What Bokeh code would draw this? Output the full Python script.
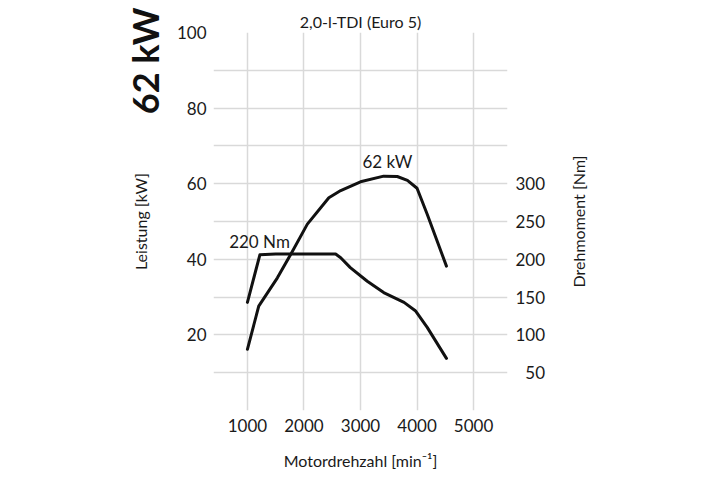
import math
from bokeh.plotting import figure
from bokeh.models import (Range1d, LinearAxis, FixedTicker, Label, Grid, Title)
from bokeh.embed import file_html
from bokeh.resources import INLINE

# ---- data ----
rpm_power = [1000, 1200, 1530, 1765, 2060, 2440, 2650, 3000, 3410, 3650, 3830, 4000, 4180, 4520]
power_kw = [16.2, 27.6, 35.1, 41.3, 49.3, 56.3, 58.2, 60.5, 62.0, 61.9, 60.9, 58.8, 51.9, 38.2]

rpm_torque = [1000, 1220, 1500, 2000, 2560, 2650, 2820, 3120, 3410, 3770, 3970, 4180, 4520]
torque_nm = [143, 206, 207, 207, 207, 202, 189, 171, 156, 143, 132, 110, 69]

x_ticks = [1000, 2000, 3000, 4000, 5000]
kw_ticks = [20, 40, 60, 80, 100]
kw_grid = [10, 20, 30, 40, 50, 60, 70, 80, 90]
nm_ticks = [50, 100, 150, 200, 250, 300]

title_text = "2,0-l-TDI (Euro 5)"
badge_text = "62 kW"
torque_axis_text = "Drehmoment [Nm]"
peak_power_text = "62 kW"
peak_torque_text = "220 Nm"

FONT = "Lato"
TXT = "#1a1a1a"

p = figure(width=712, height=472, output_backend="svg", toolbar_location=None,
           x_range=Range1d(400, 5600), y_range=Range1d(0, 100),
           min_border_left=213, min_border_right=205, min_border_top=32, min_border_bottom=62,
           x_axis_location=None, y_axis_location=None)
p.outline_line_color = None
p.extra_y_ranges = {"torque": Range1d(0, 500)}

p.title = Title(text=title_text, align="center", text_font=FONT, text_font_size="16px",
                text_font_style="normal", text_color=TXT, standoff=4)

# grids
p.xgrid.visible = False
p.ygrid.visible = False
gx = Grid(dimension=0, ticker=FixedTicker(ticks=x_ticks),
          grid_line_color="#d9d9d9", grid_line_width=1.5)
gy = Grid(dimension=1, ticker=FixedTicker(ticks=kw_grid),
          grid_line_color="#d9d9d9", grid_line_width=1.5)
p.add_layout(gx)
p.add_layout(gy)

def style_axis(ax):
    ax.axis_line_color = None
    ax.major_tick_line_color = None
    ax.minor_tick_line_color = None
    ax.major_tick_out = 0
    ax.major_tick_in = 0
    ax.minor_tick_out = 0
    ax.minor_tick_in = 0
    ax.major_label_text_font = FONT
    ax.major_label_text_font_size = "17px"
    ax.major_label_text_color = TXT
    ax.axis_label_text_font = FONT
    ax.axis_label_text_font_size = "16px"
    ax.axis_label_text_font_style = "normal"
    ax.axis_label_text_color = TXT

xaxis = LinearAxis(ticker=FixedTicker(ticks=x_ticks), axis_label="Motordrehzahl [min\u207b\u00b9]")
style_axis(xaxis)
xaxis.major_label_standoff = 8
xaxis.axis_label_standoff = 16
p.add_layout(xaxis, "below")

laxis = LinearAxis(ticker=FixedTicker(ticks=kw_ticks), axis_label="Leistung [kW]")
style_axis(laxis)
laxis.major_label_standoff = 7
laxis.axis_label_standoff = 24
p.add_layout(laxis, "left")

badge = Title(text=badge_text, align="right", text_font=FONT, text_font_size="36px",
              text_font_style="bold", text_color="#111111", standoff=-78, offset=-25)
p.add_layout(badge, "left")

# right-hand axis title, reading bottom-to-top like the reference
torque_title = Title(text=torque_axis_text, align="center", text_font=FONT, text_font_size="16px",
                     text_font_style="normal", text_color=TXT, standoff=-921)
p.add_layout(torque_title, "left")

raxis = LinearAxis(y_range_name="torque", ticker=FixedTicker(ticks=nm_ticks))
style_axis(raxis)
raxis.major_label_standoff = 8
raxis.major_label_overrides = {50: "\u200750"}
p.add_layout(raxis, "right")

# curves
p.line(rpm_power, power_kw, line_width=3, line_color="#111111", line_join="round", line_cap="round")
p.line(rpm_torque, torque_nm, y_range_name="torque", line_width=3, line_color="#111111",
       line_join="round", line_cap="round")

# annotations inside the frame
p.add_layout(Label(x=3477, y=65.9, text=peak_power_text, text_align="center", text_baseline="middle",
                   text_font=FONT, text_font_size="17px", text_color=TXT))
p.add_layout(Label(x=1214, y=44.8, text=peak_torque_text, text_align="center", text_baseline="middle",
                   text_font=FONT, text_font_size="17px", text_color=TXT))

open("out.html", "w").write(file_html(p, INLINE))
